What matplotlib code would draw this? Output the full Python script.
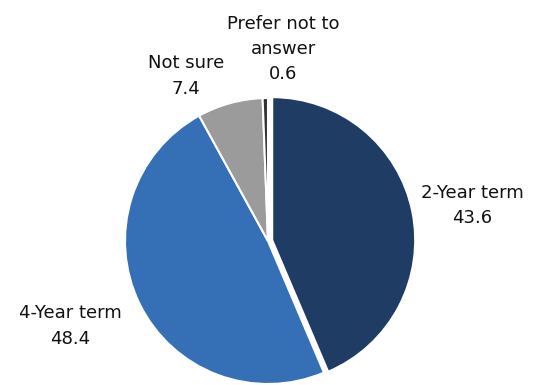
import matplotlib
matplotlib.use("Agg")
import matplotlib.pyplot as plt

categories = ["2-Year term", "4-Year term", "Not sure", "Prefer not to\nanswer"]
values = [43.6, 48.4, 7.4, 0.6]
colors = ["#1f3c64", "#3570b6", "#9b9b9b", "#333333"]
explode = [0.03, 0, 0, 0]

W, H = 536, 385
fig = plt.figure(figsize=(W / 100, H / 100), dpi=100)
cx, cy, r = 268, 241, 143
ax = fig.add_axes([(cx - r) / W, (H - cy - r) / H, 2 * r / W, 2 * r / H])
ax.pie(values, colors=colors, startangle=90, counterclock=False, explode=explode,
       radius=1.0, wedgeprops=dict(edgecolor="white", linewidth=1.5))
ax.set_xlim(-1, 1)
ax.set_ylim(-1, 1)
ax.set_aspect("equal")
ax.axis("off")
for p in ax.patches:
    p.set_clip_on(False)

label_pos = [(472, 206), (70, 326), (186, 76), (283, 49)]
for cat, val, (px, py) in zip(categories, values, label_pos):
    fig.text(px / W, 1 - py / H, f"{cat}\n{val:.1f}", ha="center", va="center",
             fontsize=13, family="DejaVu Sans", linespacing=1.5, color="#111111")

fig.savefig("out.png", dpi=100)
